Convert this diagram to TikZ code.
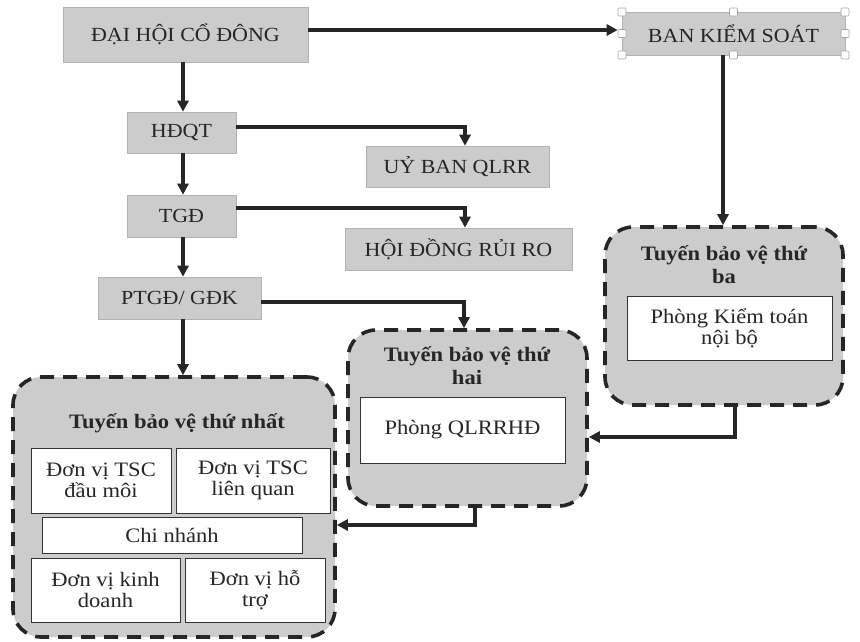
\documentclass[tikz,border=0pt]{standalone}
\usepackage{fontspec}
\setmainfont{Liberation Serif}[FakeStretch=1.1]
\usetikzlibrary{arrows.meta}
\tikzset{
  tbox/.style={draw=gray!60, line width=0.6pt, fill=gray!40, text=black!85, inner sep=0pt, font=\fontsize{20}{22}\selectfont},
  grp/.style={draw=black!85, line width=3.6pt, dash pattern=on 14pt off 9pt, fill=gray!40, rounded corners=28pt, inner sep=0pt},
  wbox/.style={draw=black!80, line width=0.8pt, fill=white, text=black!85, inner sep=0pt, align=center, font=\fontsize{20.5}{21}\selectfont},
  ttl/.style={text=black!85, align=center, inner sep=0pt, font=\bfseries\fontsize{20.5}{23}\selectfont},
  arr/.style={draw=black!85, line width=3.2pt, -{Triangle[length=11pt,width=11pt]}},
  handle/.style={draw=gray!70, line width=0.6pt, fill=white, minimum size=8pt, inner sep=0pt, rounded corners=1pt}
}
\begin{document}
\begin{tikzpicture}[x=1pt,y=-1pt]
\useasboundingbox (0,0) rectangle (860,641);
% top boxes
\node[tbox, minimum width=245pt, minimum height=55pt] (dhcd) at (185.5,34.5) {ĐẠI HỘI CỔ ĐÔNG};
\node[tbox, minimum width=223pt, minimum height=43pt] (bks) at (733.5,33.5) {BAN KIỂM SOÁT};
\node[tbox, minimum width=109pt, minimum height=41pt] (hdqt) at (181.5,132.5) {HĐQT};
\node[tbox, minimum width=183pt, minimum height=41pt] (ub) at (457.5,166.5) {UỶ BAN QLRR};
\node[tbox, minimum width=109pt, minimum height=42pt] (tgd) at (181.5,216) {TGĐ};
\node[tbox, minimum width=227pt, minimum height=42pt] (hdrr) at (458.5,249) {HỘI ĐỒNG RỦI RO};
\node[tbox, minimum width=163pt, minimum height=42pt] (ptgd) at (179.5,298) {PTGĐ/ GĐK};
% selection handles
\node[handle] (h1) at (622,12) {};
\node[handle] (h2) at (733.5,12) {};
\node[handle] (h3) at (845,12) {};
\node[handle] (h4) at (622,33.5) {};
\node[handle] (h5) at (845,33.5) {};
\node[handle] (h6) at (622,55) {};
\node[handle] (h7) at (733.5,55) {};
\node[handle] (h8) at (845,55) {};
% groups
\node[grp, minimum width=322pt, minimum height=260pt] (g1) at (174,507) {};
\node[ttl] (t1) at (177,423) {Tuyến bảo vệ thứ nhất};
\node[wbox, minimum width=140pt, minimum height=65pt] (a1) at (101,480.5) {Đơn vị TSC\\đầu môi};
\node[wbox, minimum width=154pt, minimum height=65pt] (a2) at (253,480.5) {Đơn vị TSC\\liên quan};
\node[wbox, minimum width=260pt, minimum height=36pt] (a3) at (172,535) {Chi nhánh};
\node[wbox, minimum width=149pt, minimum height=64pt] (a4) at (105.5,590) {Đơn vị kinh\\doanh};
\node[wbox, minimum width=140pt, minimum height=64pt] (a5) at (255,590) {Đơn vị hỗ\\trợ};

\node[grp, minimum width=239pt, minimum height=176pt] (g2) at (467.5,418) {};
\node[ttl] (t2) at (467,366) {Tuyến bảo vệ thứ\\hai};
\node[wbox, minimum width=205pt, minimum height=66pt] (b1) at (462.5,430) {Phòng QLRRHĐ};

\node[grp, minimum width=238pt, minimum height=178pt] (g3) at (724,316) {};
\node[ttl] (t3) at (724,265) {Tuyến bảo vệ thứ\\ba};
\node[wbox, minimum width=205pt, minimum height=64pt] (c1) at (729.5,328) {Phòng Kiểm toán\\nội bộ};
% connectors
\draw[arr] (dhcd.east |- 0,30) -- (h4.west |- 0,30);
\draw[arr] (dhcd.south -| 183,0) -- (hdqt.north -| 183,0);
\draw[arr] (hdqt.south -| 183,0) -- (tgd.north -| 183,0);
\draw[arr] (tgd.south -| 183,0) -- (ptgd.north -| 183,0);
\draw[arr] (ptgd.south -| 183,0) -- (g1.north -| 183,0);
\draw[arr] (hdqt.east |- 0,127) -| (ub.north -| 465,0);
\draw[arr] (tgd.east |- 0,208) -| (hdrr.north -| 465,0);
\draw[arr] (ptgd.east |- 0,302) -| (g2.north -| 464,0);
\draw[arr] (bks.south -| 723,0) -- (g3.north -| 723,0);
\draw[arr] (g3.south -| 735,0) |- (g2.east |- 0,437);
\draw[arr] (g2.south -| 475,0) |- (g1.east |- 0,525);
\end{tikzpicture}
\end{document}
